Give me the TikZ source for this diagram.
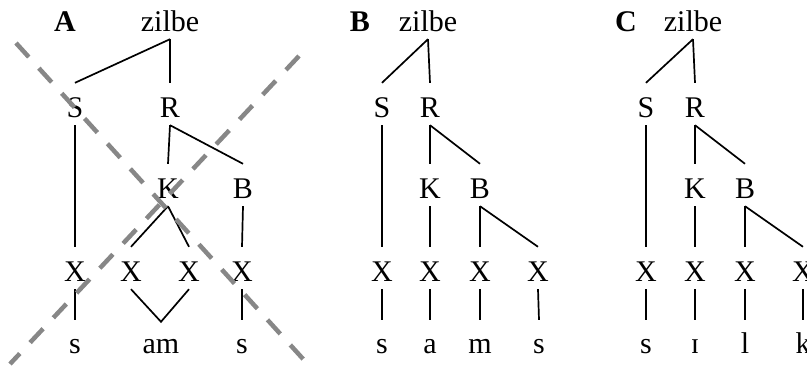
\documentclass[tikz,border=0pt]{standalone}
\usepackage{fontspec}
\setmainfont{Liberation Serif}
\usetikzlibrary{calc}
\definecolor{crossgray}{RGB}{135,135,135}
\tikzset{
  lab/.style={font=\fontsize{30}{32}\selectfont, inner sep=0pt, text height=20pt, text depth=0pt},
  panel/.style={lab, font=\fontsize{30}{32}\selectfont\bfseries},
  edge/.style={draw=black, line width=1.7pt},
  cross/.style={draw=crossgray, line width=4.5pt, dash pattern=on 19pt off 15pt}
}
% tree branch from the bottom of one label to the top of another
\newcommand\tedge[3][15]{\draw[edge] ($(#2.south)+(0,7)$) -- ($(#3.north)+(0,-#1)$);}
\begin{document}
\begin{tikzpicture}[x=1pt,y=-1pt]
\clip (0,0) rectangle (807,366);
\fill[white] (0,0) rectangle (807,366);

% ---------- A ----------
\node[panel] (pA) at (65,22) {A};
\node[lab] (zA) at (170,22) {zilbe};
\node[lab] (SA) at (75,108) {S};
\node[lab] (RA) at (170,108) {R};
\node[lab] (KA) at (168,189) {K};
\node[lab] (BA) at (243,189) {B};
\node[lab] (XA1) at (75,272) {X};
\node[lab] (XA2) at (131,272) {X};
\node[lab] (XA3) at (189,272) {X};
\node[lab] (XA4) at (242,272) {X};
\node[lab] (lA1) at (75,344) {s};
\node[lab] (lA2) at (161,344) {am};
\node[lab] (lA3) at (242,344) {s};
\tedge{zA}{SA}
\tedge{zA}{RA}
\tedge{RA}{KA}
\tedge{RA}{BA}
\tedge{SA}{XA1}
\tedge{KA}{XA2}
\tedge{KA}{XA3}
\tedge{BA}{XA4}
\tedge[14]{XA1}{lA1}
\tedge[14]{XA4}{lA3}
\draw[edge] ($(XA2.south)+(0,7)$) -- ($(lA2.north)+(0,-12)$) -- ($(XA3.south)+(0,7)$);

% the two dashed strokes crossing out tree A
\draw[cross] (16,43) -- (304,360);
\draw[cross] (299,56) -- (10,364);

% ---------- B ----------
\node[panel] (pB) at (360,22) {B};
\node[lab] (zB) at (428,22) {zilbe};
\node[lab] (SB) at (382,108) {S};
\node[lab] (RB) at (430,108) {R};
\node[lab] (KB) at (430,189) {K};
\node[lab] (BB) at (480,189) {B};
\node[lab] (XB1) at (382,272) {X};
\node[lab] (XB2) at (430,272) {X};
\node[lab] (XB3) at (480,272) {X};
\node[lab] (XB4) at (538,272) {X};
\node[lab] (lB1) at (382,344) {s};
\node[lab] (lB2) at (430,344) {a};
\node[lab] (lB3) at (480,344) {m};
\node[lab] (lB4) at (539,344) {s};
\tedge{zB}{SB}
\tedge{zB}{RB}
\tedge{RB}{KB}
\tedge{RB}{BB}
\tedge{SB}{XB1}
\tedge{KB}{XB2}
\tedge{BB}{XB3}
\tedge{BB}{XB4}
\tedge[14]{XB1}{lB1}
\tedge[14]{XB2}{lB2}
\tedge[14]{XB3}{lB3}
\tedge[14]{XB4}{lB4}

% ---------- C ----------
\node[panel] (pC) at (626,22) {C};
\node[lab] (zC) at (693,22) {zilbe};
\node[lab] (SC) at (646,108) {S};
\node[lab] (RC) at (695,108) {R};
\node[lab] (KC) at (695,189) {K};
\node[lab] (BC) at (745,189) {B};
\node[lab] (XC1) at (646,272) {X};
\node[lab] (XC2) at (695,272) {X};
\node[lab] (XC3) at (745,272) {X};
\node[lab] (XC4) at (803,272) {X};
\node[lab] (lC1) at (646,344) {s};
\node[lab] (lC2) at (695,344) {ɪ};
\node[lab] (lC3) at (745,344) {l};
\node[lab] (lC4) at (803,344) {k};
\tedge{zC}{SC}
\tedge{zC}{RC}
\tedge{RC}{KC}
\tedge{RC}{BC}
\tedge{SC}{XC1}
\tedge{KC}{XC2}
\tedge{BC}{XC3}
\tedge{BC}{XC4}
\tedge[14]{XC1}{lC1}
\tedge[14]{XC2}{lC2}
\tedge[14]{XC3}{lC3}
\tedge[14]{XC4}{lC4}
\end{tikzpicture}
\end{document}
